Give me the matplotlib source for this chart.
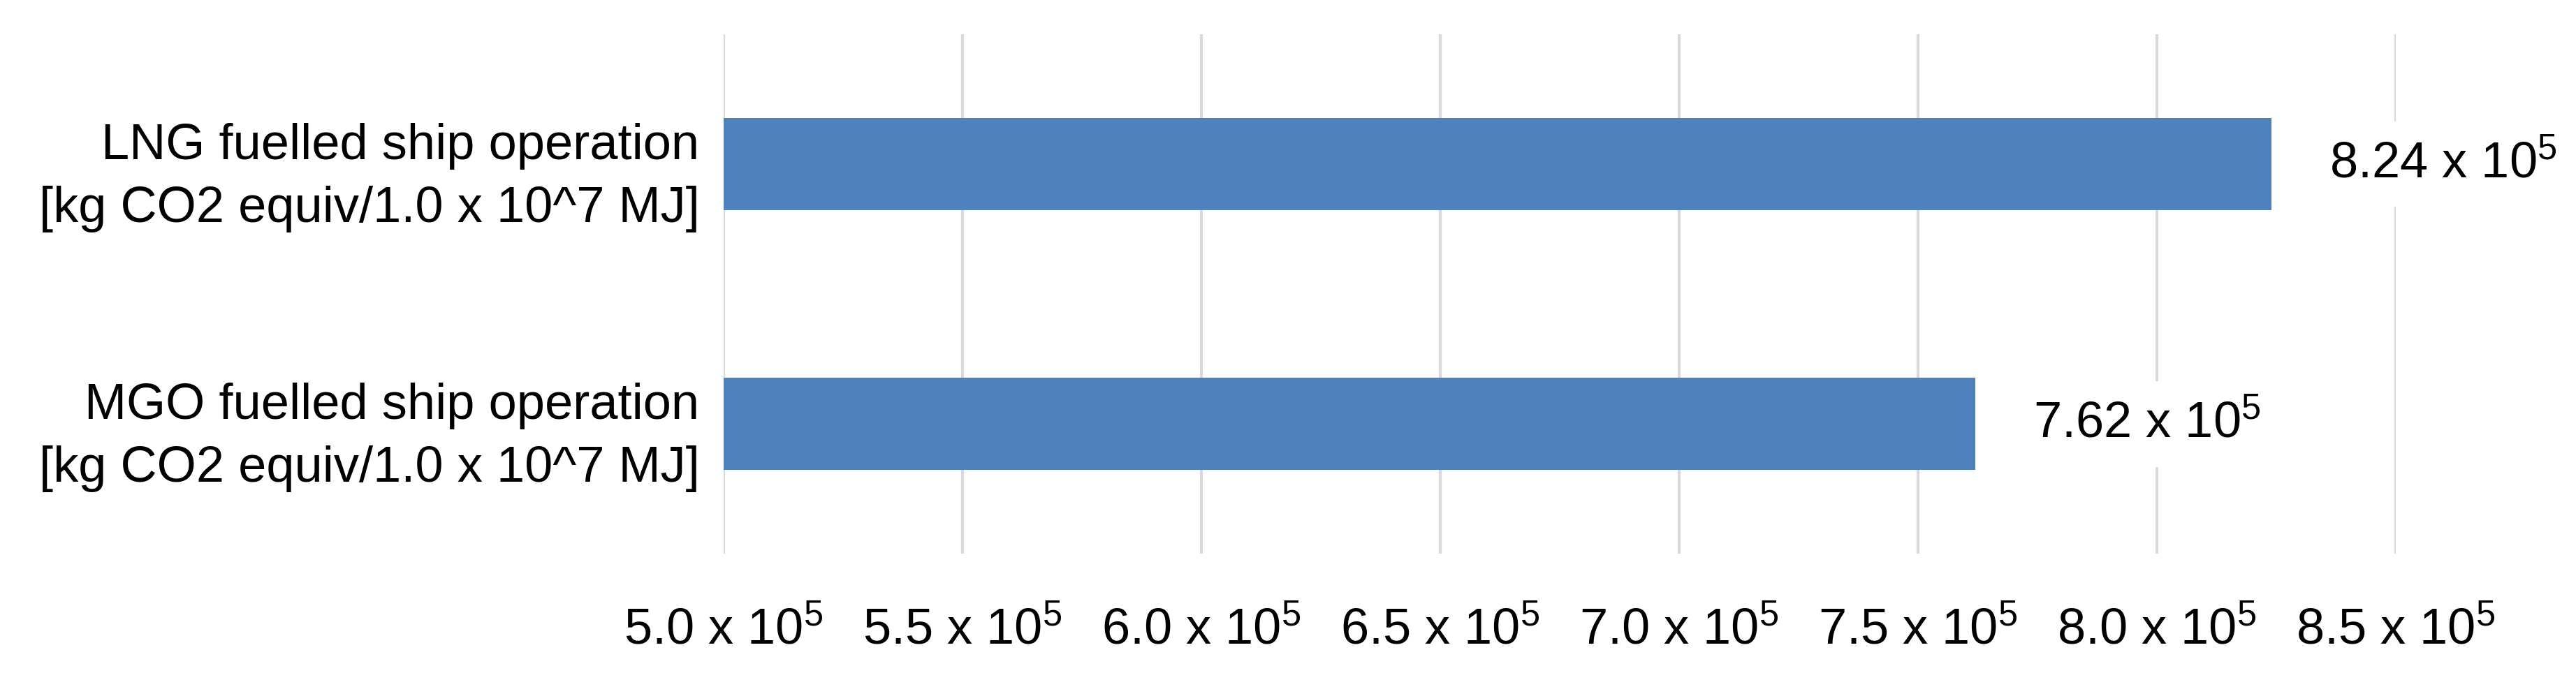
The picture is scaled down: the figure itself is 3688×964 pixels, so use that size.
import matplotlib.pyplot as plt
import numpy as np

plt.rcParams['font.family'] = ['Liberation Sans Narrow', 'Liberation Sans', 'DejaVu Sans']
plt.rcParams['mathtext.default'] = 'regular'

categories = ['LNG fuelled ship operation\n[kg CO2 equiv/1.0 x 10^7 MJ]',
              'MGO fuelled ship operation\n[kg CO2 equiv/1.0 x 10^7 MJ]']
values = [8.24e5, 7.62e5]
value_labels = ['8.24 x 10$^{5}$', '7.62 x 10$^{5}$']
ticks = [5.0e5, 5.5e5, 6.0e5, 6.5e5, 7.0e5, 7.5e5, 8.0e5, 8.5e5]
tick_labels = ['%.1f x 10$^{5}$' % (t / 1e5) for t in ticks]

fig = plt.figure(figsize=(36.88, 9.64), dpi=100)
ax = fig.add_axes([0.281, 0.177, 0.649, 0.772])
y = np.arange(len(categories))
ax.barh(y, np.array(values) - 5.0e5, left=5.0e5, height=0.355, color='#4f81bd', zorder=3)
ax.set_xlim(5.0e5, 8.5e5)
ax.set_ylim(1.5, -0.5)
ax.set_xticks(ticks)
ax.set_xticklabels(tick_labels, fontsize=52)
ax.set_yticks(y)
ax.set_yticklabels(categories, fontsize=52, linespacing=1.45)
ax.grid(axis='x', color='#d9d9d9', linewidth=3, zorder=0)
for s in ax.spines.values():
    s.set_visible(False)
ax.tick_params(length=0)
ax.tick_params(axis='x', pad=55)
ax.tick_params(axis='y', pad=25)
for yi, v, lab in zip(y, values, value_labels):
    ax.annotate(lab, (v, yi), xytext=(60, 0), textcoords='offset points',
                ha='left', va='center', fontsize=52, zorder=4,
                bbox=dict(facecolor='white', edgecolor='none', pad=20))
fig.savefig('out.png')
